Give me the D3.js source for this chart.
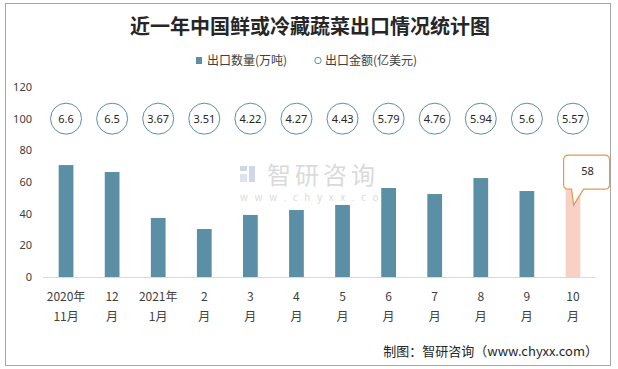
<!DOCTYPE html>
<html>
<head>
<meta charset="utf-8">
<script src="https://cdn.jsdelivr.net/npm/d3@7"></script>
<style>
  body { margin: 0; background: #fff; }
  text { font-family: "Noto Sans CJK SC", "Noto Sans", sans-serif; }
</style>
</head>
<body>
<div id="chart"></div>
<script>
// data
const line1 = ["2020年", "12", "2021年", "2", "3", "4", "5", "6", "7", "8", "9", "10"];
const line2 = ["11月", "月", "1月", "月", "月", "月", "月", "月", "月", "月", "月", "月"];
const volume = [70.7, 66.3, 37.3, 30.3, 39.2, 42.3, 45.5, 56.2, 52.4, 62.5, 54.3, 58];
const amount = ["6.6", "6.5", "3.67", "3.51", "4.22", "4.27", "4.43", "5.79", "4.76", "5.94", "5.6", "5.57"];
const yTicks = [0, 20, 40, 60, 80, 100, 120];

const W = 618, H = 369;
const barColor = "#5b8fa6";
const pink = "#f8d0c6";

const svg = d3.select("#chart").append("svg")
    .attr("width", W)
    .attr("height", H);

// outer frame
svg.append("rect")
    .attr("x", 5.5).attr("y", 3.5)
    .attr("width", 605).attr("height", 362)
    .attr("fill", "#fff")
    .attr("stroke", "#a6a6a6");

// title
svg.append("text")
    .attr("x", 310).attr("y", 34)
    .attr("text-anchor", "middle")
    .attr("font-size", 20)
    .attr("font-weight", "bold")
    .attr("fill", "#262626")
    .text("近一年中国鲜或冷藏蔬菜出口情况统计图");

// legend
const lg = svg.append("g").attr("font-size", 12);
lg.append("rect").attr("x", 196).attr("y", 57).attr("width", 6).attr("height", 7).attr("fill", barColor);
lg.append("text").attr("x", 207).attr("y", 64.5).attr("fill", "#404040").text("出口数量(万吨)");
lg.append("circle").attr("cx", 318).attr("cy", 60.5).attr("r", 3.2)
    .attr("fill", "none").attr("stroke", barColor);
lg.append("text").attr("x", 325).attr("y", 64.5).attr("fill", "#404040").text("出口金额(亿美元)");

// scales
const x = d3.scaleBand()
    .domain(d3.range(volume.length))
    .range([43, 596])
    .paddingInner(0.68)
    .paddingOuter(0.34);

const y = d3.scaleLinear().domain([0, 120]).range([277, 87]);

// watermark
const wm = svg.append("g").attr("opacity", 0.55);
wm.append("rect").attr("x", 240).attr("y", 166).attr("width", 7).attr("height", 5).attr("fill", "#a9b8d6");
wm.append("rect").attr("x", 240).attr("y", 174).attr("width", 7).attr("height", 8).attr("fill", "#c3cde3");
wm.append("rect").attr("x", 249).attr("y", 166).attr("width", 6).attr("height", 16).attr("fill", "#a9b8d6");
wm.append("text").attr("x", 267).attr("y", 184).attr("font-size", 24)
    .attr("fill", "#bdbdbd").attr("letter-spacing", 4).text("智研咨询");
wm.append("text").attr("x", 240).attr("y", 201).attr("font-size", 10)
    .attr("fill", "#bdbdbd").attr("letter-spacing", 6.6).text("www.chyxx.com");

// y axis
const yAxis = svg.append("g")
    .attr("transform", "translate(32,0)")
    .call(d3.axisLeft(y).tickValues(yTicks).tickSize(0).tickPadding(0));
yAxis.select(".domain").remove();
yAxis.selectAll("text")
    .attr("font-size", 11)
    .attr("fill", "#404040")
    .style("font-family", "'Noto Sans', sans-serif");

// bars
svg.append("g").selectAll("rect")
    .data(volume)
    .join("rect")
    .attr("x", (d, i) => x(i))
    .attr("y", d => y(d))
    .attr("width", x.bandwidth())
    .attr("height", d => y(0) - y(d))
    .attr("fill", (d, i) => i === volume.length - 1 ? pink : barColor);

// baseline
svg.append("line")
    .attr("x1", 43).attr("x2", 596)
    .attr("y1", y(0) + 0.5).attr("y2", y(0) + 0.5)
    .attr("stroke", "#d9d9d9");

// amount circles
const cg = svg.append("g").selectAll("g")
    .data(amount)
    .join("g")
    .attr("transform", (d, i) => `translate(${x(i) + x.bandwidth() / 2},${y(100)})`);
cg.append("circle")
    .attr("r", 15.5)
    .attr("fill", "#fff")
    .attr("stroke", "#5b8fa6");
cg.append("text")
    .attr("text-anchor", "middle")
    .attr("dy", "0.36em")
    .attr("font-size", 11)
    .attr("fill", "#262626")
    .style("font-family", "'Noto Sans', sans-serif")
    .text(d => d);

// x labels
const xl = svg.append("g").selectAll("text")
    .data(line1)
    .join("text")
    .attr("text-anchor", "middle")
    .attr("font-size", 12)
    .attr("fill", "#404040");
xl.append("tspan")
    .attr("x", (d, i) => x(i) + x.bandwidth() / 2)
    .attr("y", 301)
    .text(d => d);
xl.append("tspan")
    .attr("x", (d, i) => x(i) + x.bandwidth() / 2)
    .attr("y", 321)
    .text((d, i) => line2[i]);

// callout for last bar
const last = volume.length - 1;
const bx = x(last);
const tipX = bx + 8, tipY = y(volume[last]) + 20;
const boxL = bx - 2, boxR = bx + 44, boxT = y(volume[last]) - 30, boxB = y(volume[last]) + 4;
const r = 5;
const path = d3.path();
path.moveTo(boxL + r, boxT);
path.lineTo(boxR - r, boxT);
path.quadraticCurveTo(boxR, boxT, boxR, boxT + r);
path.lineTo(boxR, boxB - r);
path.quadraticCurveTo(boxR, boxB, boxR - r, boxB);
path.lineTo(bx + 18, boxB);
path.lineTo(tipX, tipY);
path.lineTo(bx + 6, boxB);
path.lineTo(boxL + r, boxB);
path.quadraticCurveTo(boxL, boxB, boxL, boxB - r);
path.lineTo(boxL, boxT + r);
path.quadraticCurveTo(boxL, boxT, boxL + r, boxT);
path.closePath();
svg.append("path")
    .attr("d", path.toString())
    .attr("fill", "#fff")
    .attr("stroke", "#e49a4a")
    .attr("stroke-width", 1.2);
svg.append("text")
    .attr("x", (boxL + boxR) / 2 + 1)
    .attr("y", (boxT + boxB) / 2 - 1)
    .attr("dy", "0.36em")
    .attr("text-anchor", "middle")
    .attr("font-size", 11)
    .attr("fill", "#262626")
    .style("font-family", "'Noto Sans', sans-serif")
    .text(volume[last]);

// footer
svg.append("text")
    .attr("x", 598).attr("y", 356)
    .attr("text-anchor", "end")
    .attr("font-size", 13)
    .attr("fill", "#262626")
    .text("制图：智研咨询（www.chyxx.com）");
</script>
</body>
</html>
